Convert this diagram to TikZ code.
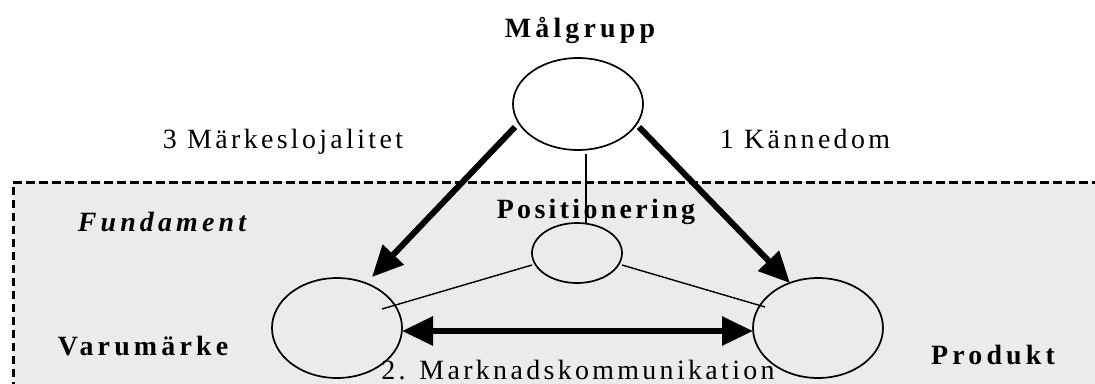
\documentclass[tikz,border=0pt]{standalone}
\usepackage{fontspec}
\setmainfont{Liberation Serif}
\newfontfamily\spaced[LetterSpace=12]{Liberation Serif}
\newfontfamily\spacedb[LetterSpace=15]{Liberation Serif}
\usetikzlibrary{shapes.geometric,arrows.meta,calc}
\definecolor{base}{HTML}{EBEBEB}
\tikzset{
  blob/.style={draw, ellipse, line width=1.7bp, inner sep=0pt, fill=white},
  thinline/.style={line width=1.4bp},
  heavy/.style={line width=6bp},
  tip/.tip={Triangle[length=31bp,width=28bp]},
  lbl/.style={inner sep=0pt, anchor=base, font=\spaced\fontsize{28}{33}\selectfont},
  head/.style={lbl, font=\spacedb\bfseries\fontsize{28}{33}\selectfont},
}
\begin{document}
\begin{tikzpicture}[x=1bp, y=-1bp]
  \clip (0,0) rectangle (1095,383);
  \fill[white] (0,0) rectangle (1095,383);

  % foundation area with dashed top and left border
  \fill[base] (13,182) rectangle (1100,390);
  \draw[line width=3bp, dash pattern=on 8.5bp off 4.5bp] (13,390) -- (13,182) -- (1100,182);

  % ellipses
  \node[blob, minimum width=130bp, minimum height=92bp]  (mal)  at (578,104) {};
  \node[blob, minimum width=90bp,  minimum height=60bp, fill=base]  (pos)  at (577,253) {};
  \node[blob, minimum width=130bp, minimum height=100bp, fill=base] (varu) at (337,328) {};
  \node[blob, minimum width=130bp, minimum height=100bp, fill=base] (prod) at (818,328) {};

  % thin links
  \draw[thinline] ($(mal.center)+(8,50)$) -- ($(pos.center)+(9,-30)$);
  \draw[thinline] ($(pos.center)+(-45,12)$) -- ($(varu.center)+(45,-19)$);
  \draw[thinline] ($(pos.center)+(45,12)$) -- ($(prod.center)+(-53,-21)$);

  % heavy arrows
  \draw[heavy, -tip] ($(mal.center)+(-63,23)$) -- ($(varu.center)+(35,-51)$);
  \draw[heavy, -tip] ($(mal.center)+(61,23)$) -- ($(prod.center)+(-28,-45)$);
  \draw[heavy, tip-tip] ($(varu.center)+(65,3)$) -- ($(prod.center)+(-65,3)$);

  % labels
  \node[head] (tmal) at (580,37) {Målgrupp};
  \node[lbl] (tloj) at (283,148) {3 Märkeslojalitet};
  \node[lbl] (tkan) at (805,148) {1 Kännedom};
  \node[head, font=\spacedb\bfseries\itshape\fontsize{28}{33}\selectfont] (tfun) at (162,231) {Fundament};
  \node[head, font=\spaced\bfseries\fontsize{28}{33}\selectfont] (tpos) at (596,218) {Positionering};
  \node[head] (tvar) at (143,355) {Varumärke};
  \node[head] (tpro) at (993,364) {Produkt};
  \node[lbl] (tmkt) at (578,379) {2. Marknadskommunikation};
\end{tikzpicture}
\end{document}
